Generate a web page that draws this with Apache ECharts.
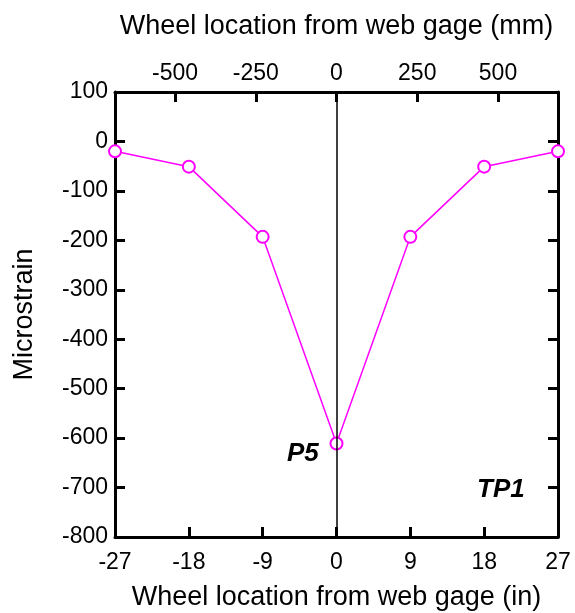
<!DOCTYPE html>
<html>
<head>
<meta charset="utf-8">
<script src="https://cdn.jsdelivr.net/npm/echarts@6/dist/echarts.min.js"></script>
<style>
  html, body { margin: 0; padding: 0; background: #fff; }
  #chart { width: 575px; height: 613px; }
</style>
</head>
<body>
<div id="chart"></div>
<script>
// Wheel position relative to the web gage (inches) and measured strain
const wheelLocationIn = [-27, -18, -9, 0, 9, 18, 27];
const microstrain = [-20, -51, -193, -611, -193, -51, -20];
// Secondary scale ticks in millimetres
const mmTicks = [-500, -250, 0, 250, 500];
const IN_TO_MM = 25.4;

const FONT = '"Liberation Sans", Arial, Helvetica, sans-serif';
const black = '#000';

const chart = echarts.init(document.getElementById('chart'), null, { renderer: 'canvas' });

const axisLine = { show: true, onZero: false, lineStyle: { color: black, width: 3 } };
const tickIn = { show: true, inside: true, length: 10, lineStyle: { color: black, width: 3 } };
const tickFont = { fontFamily: FONT, fontSize: 23, color: black };
const titleFont = { fontFamily: FONT, fontSize: 27, color: black };

chart.setOption({
  animation: false,
  backgroundColor: '#fff',
  grid: { left: 115, right: 17, top: 92, bottom: 76, containLabel: false, outerBoundsMode: 'none' },
  xAxis: [
    {
      type: 'value', position: 'bottom',
      min: -27, max: 27, interval: 9,
      name: 'Wheel location from web gage (in)',
      nameLocation: 'middle', nameGap: 47,
      nameTextStyle: titleFont,
      axisLine: axisLine, axisTick: tickIn,
      axisLabel: Object.assign({ margin: 14 }, tickFont),
      splitLine: { show: false }
    },
    {
      type: 'value', position: 'top',
      min: -27 * IN_TO_MM, max: 27 * IN_TO_MM,
      name: 'Wheel location from web gage (mm)',
      nameLocation: 'middle', nameGap: 52,
      nameTextStyle: titleFont,
      axisLine: axisLine,
      axisTick: Object.assign({}, tickIn, { customValues: mmTicks }),
      axisLabel: Object.assign({ margin: 7, customValues: mmTicks }, tickFont),
      splitLine: { show: false }
    }
  ],
  yAxis: [
    {
      type: 'value', position: 'left',
      min: -800, max: 100, interval: 100,
      name: 'Microstrain',
      nameLocation: 'middle', nameGap: 77, nameRotate: 90,
      nameTextStyle: titleFont,
      axisLine: axisLine, axisTick: tickIn,
      axisLabel: Object.assign({ margin: 7 }, tickFont),
      splitLine: { show: false }
    },
    {
      type: 'value', position: 'right',
      min: -800, max: 100, interval: 100,
      axisLine: axisLine, axisTick: tickIn,
      axisLabel: { show: false },
      splitLine: { show: false }
    }
  ],
  graphic: [
    { type: 'text', left: 287, top: 441,
      style: { text: 'P5', font: 'italic bold 26px ' + FONT, fill: black } },
    { type: 'text', left: 477, top: 477,
      style: { text: 'TP1', font: 'italic bold 26px ' + FONT, fill: black } }
  ],
  series: [
    {
      type: 'line',
      xAxisIndex: 0, yAxisIndex: 0,
      data: wheelLocationIn.map((x, i) => [x, microstrain[i]]),
      symbol: 'emptyCircle', symbolSize: 12,
      lineStyle: { color: '#ff00ff', width: 1.5 },
      itemStyle: { color: '#ff00ff', borderColor: '#ff00ff', borderWidth: 1.5 },
      z: 3,
      markLine: {
        silent: true, symbol: 'none', label: { show: false },
        lineStyle: { color: black, width: 1.5, type: 'solid' },
        data: [{ xAxis: 0 }]
      }
    }
  ]
});
</script>
</body>
</html>
